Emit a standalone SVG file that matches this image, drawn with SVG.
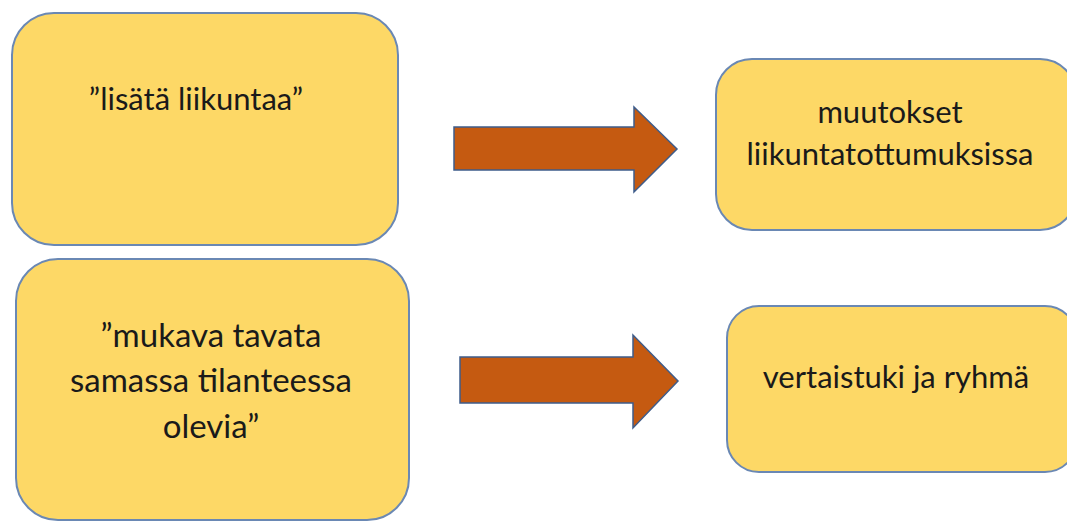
<svg xmlns="http://www.w3.org/2000/svg" width="1067" height="522" viewBox="0 0 1067 522">
<style>
.box{fill:#FDD866;stroke:#6A88B4;stroke-width:2}
.arr{fill:#C55A11;stroke:#3E5C8A;stroke-width:1.5;stroke-linejoin:miter}
.t{font-family:Lato,"Liberation Sans",sans-serif;fill:#1a1a1a;text-anchor:middle}
.b1{font-size:31px}
.b2{font-size:33px}
.med{font-size:31px}
</style>
<rect width="1067" height="522" fill="#ffffff"/>
<g id="node-lisata">
<rect class="box" x="12" y="13" width="386" height="232" rx="42" ry="42"/>
<text class="t b1" x="196" y="110">”lisätä liikuntaa”</text>
</g>
<g id="node-mukava">
<rect class="box" x="16" y="259" width="393" height="261" rx="42" ry="42"/>
<text class="t b2" x="211" y="347">”mukava tavata</text>
<text class="t b2" x="211" y="392">samassa tilanteessa</text>
<text class="t b2" x="211" y="438">olevia”</text>
</g>
<g id="node-muutokset">
<rect class="box" x="716" y="59" width="360" height="171" rx="36" ry="36"/>
<text class="t med" x="890" y="123">muutokset</text>
<text class="t med" x="890" y="165">liikuntatottumuksissa</text>
</g>
<g id="node-vertaistuki">
<rect class="box" x="727" y="306" width="350" height="166" rx="32" ry="32"/>
<text class="t med" x="896" y="388">vertaistuki ja ryhmä</text>
</g>
<g id="connectors">
<polygon class="arr" points="454,127 634,127 634,107 677,149 634,192 634,170 454,170"/>
<polygon class="arr" points="460,357 633,357 633,335 678,381 633,428 633,403 460,403"/>
</g>
</svg>
